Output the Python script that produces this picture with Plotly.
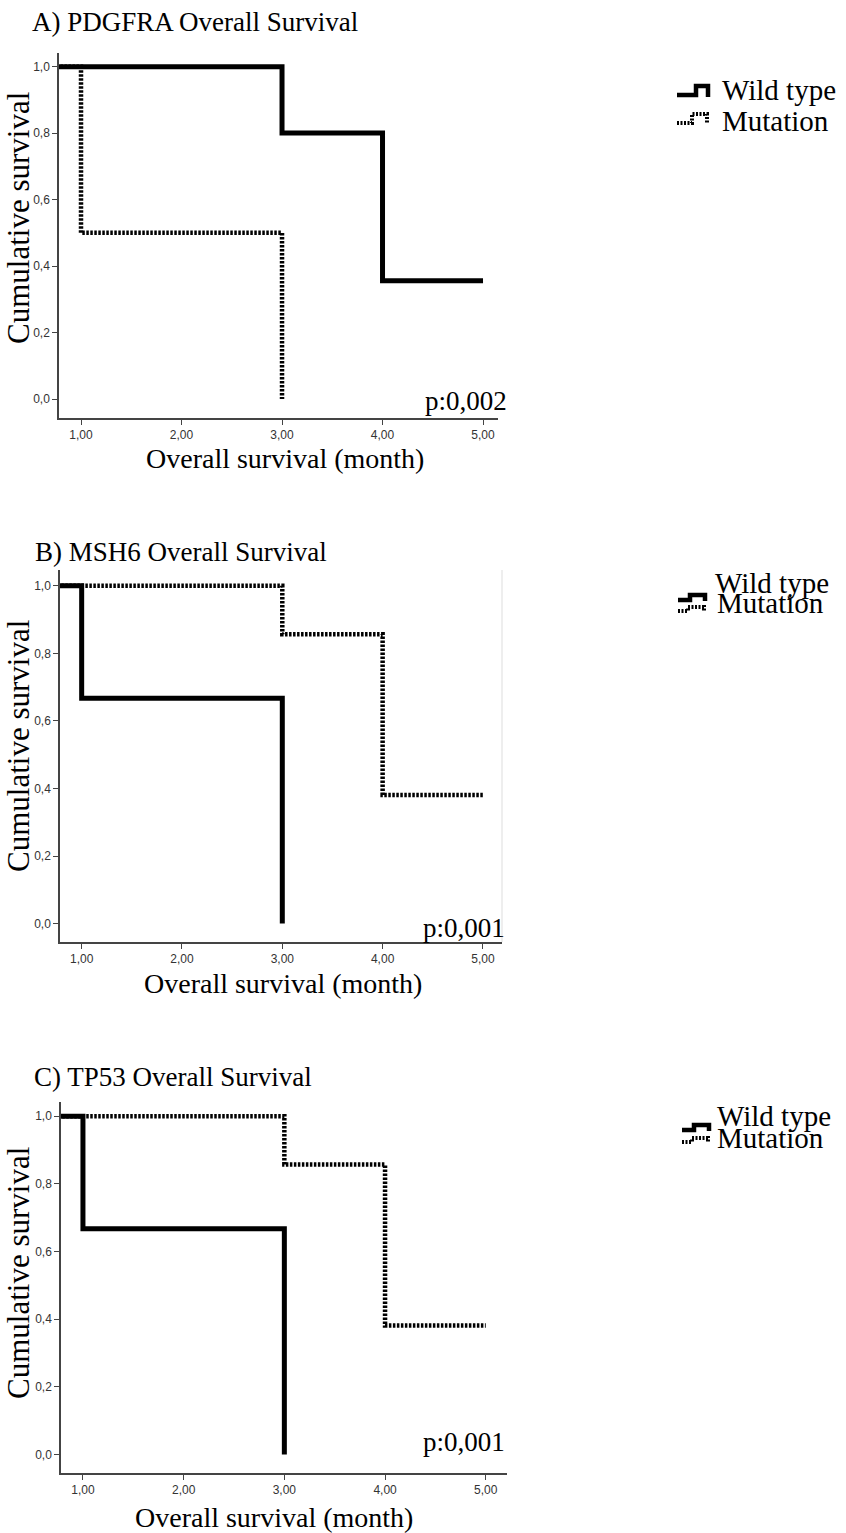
import plotly.graph_objects as go

W, H = 846, 1533

# ---------------- data ----------------
x_tickvals = [1, 2, 3, 4, 5]
x_ticktext = ["1,00", "2,00", "3,00", "4,00", "5,00"]
y_tickvals = [0.0, 0.2, 0.4, 0.6, 0.8, 1.0]
y_ticktext = ["0,0", "0,2", "0,4", "0,6", "0,8", "1,0"]

panel_titles = ["A) PDGFRA Overall Survival", "B) MSH6 Overall Survival", "C) TP53 Overall Survival"]
p_values = ["p:0,002", "p:0,001", "p:0,001"]
group_names = ["Wild type", "Mutation"]

# PDGFRA
a_wt_time = [0, 3, 4, 5]
a_wt_surv = [1.0, 0.8, 0.356, 0.356]
a_mut_time = [0, 1, 3]
a_mut_surv = [1.0, 0.5, 0.0]
# MSH6
b_wt_time = [0, 1, 3]
b_wt_surv = [1.0, 0.667, 0.0]
b_mut_time = [0, 3, 4, 5]
b_mut_surv = [1.0, 0.857, 0.381, 0.381]
# TP53
c_wt_time = [0, 1, 3]
c_wt_surv = [1.0, 0.667, 0.0]
c_mut_time = [0, 3, 4, 5]
c_mut_surv = [1.0, 0.857, 0.381, 0.381]

panels_data = [
    (a_wt_time, a_wt_surv, a_mut_time, a_mut_surv),
    (b_wt_time, b_wt_surv, b_mut_time, b_mut_surv),
    (c_wt_time, c_wt_surv, c_mut_time, c_mut_surv),
]

# ---------------- layout geometry (pixels) ----------------
# (x_left, x_right, y_top, y_bottom, xrange, yrange)
geom = [
    (59, 498, 53, 418, [0.781, 5.149], [-0.057, 1.041]),
    (60, 502, 570, 942, [0.784, 5.19], [-0.0545, 1.047]),
    (61, 507, 1102, 1473, [0.782, 5.211], [-0.055, 1.042]),
]

def px(x):
    return x / W

def py(y):
    return 1 - y / H

SERIF = "Liberation Serif, Times New Roman, serif"
SOLID_W = 5
DOT_W = 4.5
DOT_DASH = "2.5px,1.5px"

fig = go.Figure()
layout = dict(
    width=W, height=H, margin=dict(l=0, r=0, t=0, b=0),
    paper_bgcolor="white", plot_bgcolor="white", showlegend=False,
    font=dict(family=SERIF, color="black"),
)

for i, ((wt_t, wt_s, mu_t, mu_s), (xl, xr, yt, yb, xrg, yrg)) in enumerate(zip(panels_data, geom)):
    n = "" if i == 0 else str(i + 1)
    xa, ya = "x" + n, "y" + n
    fig.add_trace(go.Scatter(x=mu_t, y=mu_s, mode="lines", line_shape="hv", name=group_names[1],
                             line=dict(color="black", width=DOT_W, dash=DOT_DASH),
                             xaxis=xa, yaxis=ya))
    fig.add_trace(go.Scatter(x=wt_t, y=wt_s, mode="lines", line_shape="hv", name=group_names[0],
                             line=dict(color="black", width=SOLID_W),
                             xaxis=xa, yaxis=ya))
    layout["xaxis" + n] = dict(
        domain=[px(xl), px(xr)], range=xrg, anchor=ya,
        tickvals=x_tickvals, ticktext=x_ticktext, ticks="outside", ticklen=5,
        tickcolor="#444", tickwidth=1.2, showline=True, linecolor="#444", linewidth=1.5,
        showgrid=False, zeroline=False, ticklabelstandoff=0,
        tickfont=dict(family="Liberation Sans, Arial, sans-serif", size=12, color="#333"),
    )
    layout["yaxis" + n] = dict(
        domain=[py(yb), py(yt)], range=yrg, anchor=xa,
        tickvals=y_tickvals, ticktext=y_ticktext, ticks="outside", ticklen=5,
        tickcolor="#444", tickwidth=1.2, showline=True, linecolor="#444", linewidth=1.5,
        showgrid=False, zeroline=False, ticklabelstandoff=0,
        tickfont=dict(family="Liberation Sans, Arial, sans-serif", size=12, color="#333"),
    )

ann = []
# panel titles
for t, (x0, yc) in zip(panel_titles, [(30, 22), (33, 552), (32, 1077)]):
    ann.append(dict(text=t, x=px(x0), y=py(yc), xref="paper", yref="paper", xanchor="left",
                    yanchor="middle", showarrow=False, font=dict(family=SERIF, size=27)))
# y axis titles
for yc in [218, 746, 1273]:
    ann.append(dict(text="Cumulative survival", x=px(18), y=py(yc), xref="paper", yref="paper",
                    xanchor="center", yanchor="middle", textangle=-90, showarrow=False,
                    font=dict(family=SERIF, size=31)))
# x axis titles
for xc, yc in [(285, 458), (283, 983), (274, 1517)]:
    ann.append(dict(text="Overall survival (month)", x=px(xc), y=py(yc), xref="paper", yref="paper",
                    xanchor="center", yanchor="middle", showarrow=False,
                    font=dict(family=SERIF, size=28)))
# p-values
for t, (xr_, yc) in zip(p_values, [(509, 401), (507, 928), (507, 1442)]):
    ann.append(dict(text=t, x=px(xr_), y=py(yc), xref="paper", yref="paper",
                    xanchor="right", yanchor="middle", showarrow=False,
                    font=dict(family=SERIF, size=27)))
# legend texts
leg_pos = [((720, 90), (720, 121)), ((713, 583), (715, 603)), ((715, 1116), (715, 1138))]
for (wt_pos, mu_pos) in leg_pos:
    for name, (lx, ly) in zip(group_names, [wt_pos, mu_pos]):
        ann.append(dict(text=name, x=px(lx), y=py(ly), xref="paper", yref="paper",
                        xanchor="left", yanchor="middle", showarrow=False,
                        font=dict(family=SERIF, size=29)))
layout["annotations"] = ann

# legend icons (small step glyphs) in paper coordinates
def step_path(pts):
    return "M " + " L ".join(f"{px(x):.5f},{py(y):.5f}" for x, y in pts)

icons = [
    ([(677, 95), (696, 95), (696, 86), (708, 86), (708, 97)],
     [(677, 123), (692, 123), (692, 114), (707, 114), (707, 124)]),
    ([(678, 600), (690, 600), (690, 595), (705, 595), (705, 601)],
     [(678, 611), (688, 611), (688, 607), (704, 607), (704, 612)]),
    ([(682, 1130), (694, 1130), (694, 1125), (709, 1125), (709, 1131)],
     [(682, 1142), (692, 1142), (692, 1138), (708, 1138), (708, 1143)]),
]
shapes = []
for solid, dotted in icons:
    shapes.append(dict(type="path", path=step_path(solid), xref="paper", yref="paper",
                       line=dict(color="black", width=4.5)))
    shapes.append(dict(type="path", path=step_path(dotted), xref="paper", yref="paper",
                       line=dict(color="black", width=4, dash="2px,1.5px")))
# faint right frame in panel B
shapes.append(dict(type="line", xref="x2 domain", yref="y2 domain", x0=1, x1=1, y0=0, y1=1,
                   line=dict(color="#dddddd", width=1)))
layout["shapes"] = shapes

fig.update_layout(**layout)
fig.write_html("out.html", config={"displayModeBar": False},
               post_script="document.body.style.margin='0';document.body.style.overflow='hidden';")
